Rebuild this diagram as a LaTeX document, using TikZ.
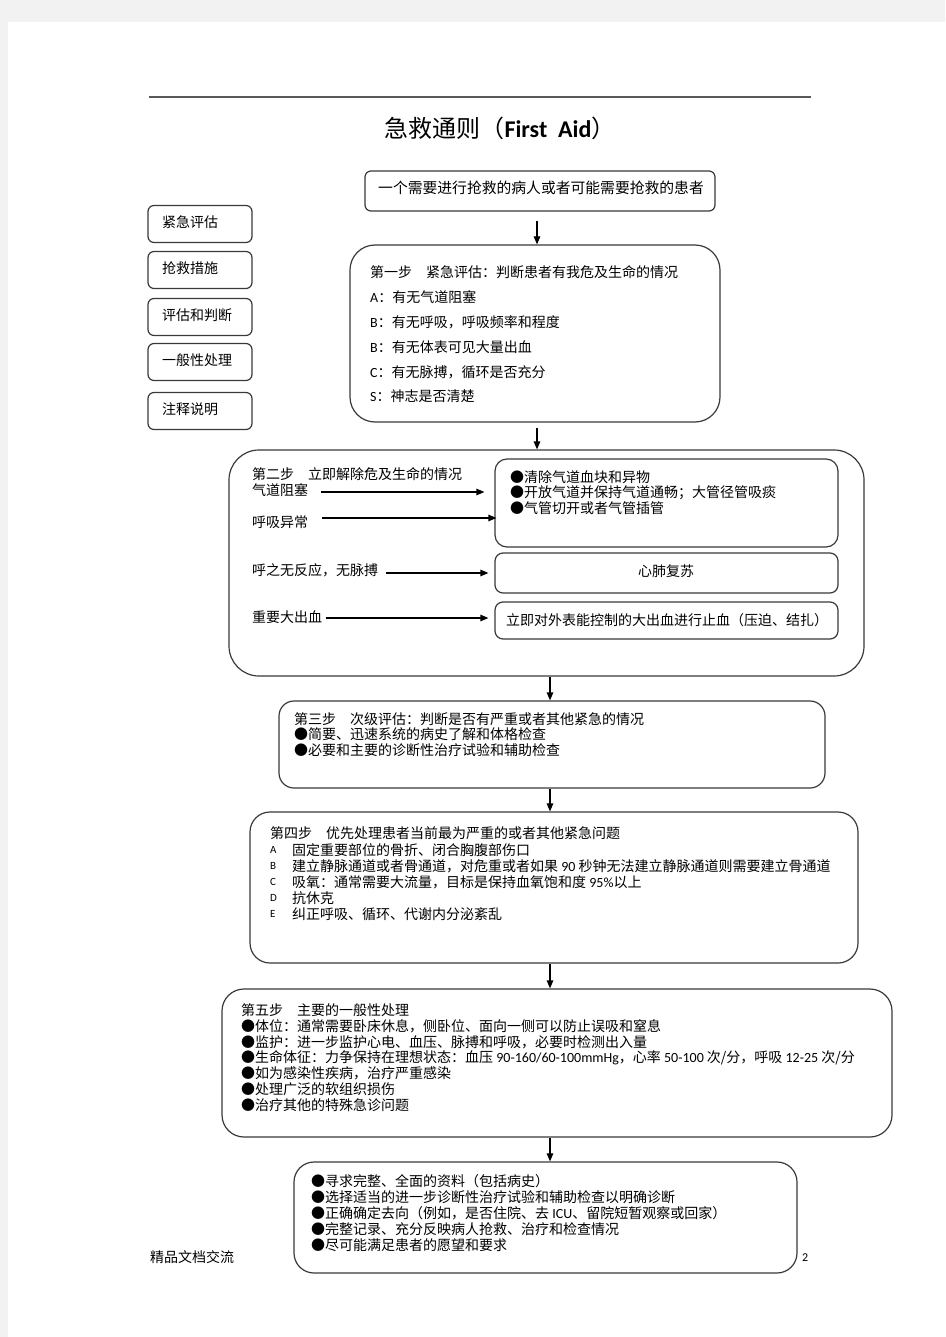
\documentclass[tikz,border=0pt]{standalone}
\usepackage{fontspec}
\setmainfont{Noto Sans CJK SC}
\newfontfamily\lat{Carlito}
\newcommand\EN[1]{{\lat #1}}
\usetikzlibrary{arrows.meta}
\definecolor{pagebg}{HTML}{F2F2F2}
\definecolor{edge}{HTML}{3A3A3A}
\begin{document}
\begin{tikzpicture}[x=1pt,y=-1pt,
  box/.style={draw=edge, line width=1.2pt, rounded corners=#1, inner sep=0pt},
  txt/.style={anchor=west, inner sep=0pt, font=\fontsize{14}{16}\selectfont, align=left},
  arr/.style={-{Triangle[length=8pt,width=6.5pt]}, line width=1.2pt, black},
]
\useasboundingbox (0,0) rectangle (945,1337);
\fill[pagebg] (0,0) rectangle (945,1337);
\fill[white] (8,22) rectangle (945,1337);
\draw[line width=1.3pt, black!65] (149,97) -- (811,97);

% title
\node[inner sep=0pt, font=\fontsize{24}{26}\selectfont] (title) at (500,128) {急救通则（{\lat\bfseries First\ \ Aid}）};

% top box
\node[box=6pt, minimum width=350pt, minimum height=40pt] (b0) at (540,191) {};
\node[txt, font=\fontsize{14.8}{16}\selectfont] (t0) at (378,188) {一个需要进行抢救的病人或者可能需要抢救的患者};

% legend
\foreach \n/\y/\s in {1/224/紧急评估, 2/270/抢救措施, 3/317/评估和判断, 4/362/一般性处理, 5/411/注释说明} {
  \node[box=6pt, minimum width=104pt, minimum height=37pt] (L\n) at (200,\y) {};
  \node[txt] (Lt\n) at (162,\y-2) {\s};
}

% step 1
\node[box=25pt, minimum width=370pt, minimum height=177pt] (b1) at (535,333.5) {};
\node[txt, font=\fontsize{14}{24.8}\selectfont] (t1) at (370,334.5) {第一步\quad 紧急评估：判断患者有我危及生命的情况\\ \EN{A}：有无气道阻塞\\ \EN{B}：有无呼吸，呼吸频率和程度\\ \EN{B}：有无体表可见大量出血\\ \EN{C}：有无脉搏，循环是否充分\\ \EN{S}：神志是否清楚};

% step 2
\node[box=30pt, minimum width=635pt, minimum height=226pt] (b2) at (546.5,563) {};
\node[box=12pt, minimum width=343pt, minimum height=88pt] (i1) at (666.5,503) {};
\node[box=8pt, minimum width=343pt, minimum height=40pt] (i2) at (666.5,573) {};
\node[box=8pt, minimum width=343pt, minimum height=37pt] (i3) at (666.5,620.5) {};
\node[txt] (s2) at (252,474) {第二步\quad 立即解除危及生命的情况};
\node[txt] (q1) at (252,490) {气道阻塞};
\node[txt] (q2) at (252,522) {呼吸异常};
\node[txt] (q3) at (252,570) {呼之无反应，无脉搏};
\node[txt] (q4) at (252,617) {重要大出血};
\node[txt, font=\fontsize{14}{15.5}\selectfont] (i1t) at (510,492.5) {●清除气道血块和异物\\●开放气道并保持气道通畅；大管径管吸痰\\●气管切开或者气管插管};
\node[inner sep=0pt, font=\fontsize{14}{16}\selectfont] (i2t) at (666,571) {心肺复苏};
\node[inner sep=0pt, font=\fontsize{14}{16}\selectfont] (i3t) at (667,620) {立即对外表能控制的大出血进行止血（压迫、结扎）};
\draw[arr, shorten <=13pt, shorten >=10pt] ([yshift=-2pt]q1.east) -- ([yshift=-2pt]q1.east -| i1.west);
\draw[arr, shorten <=14pt, shorten >=-2pt] ([yshift=4pt]q2.east) -- ([yshift=4pt]q2.east -| i1.west);
\draw[arr, shorten <=8pt, shorten >=6pt] ([yshift=-3pt]q3.east) -- ([yshift=-3pt]q3.east -| i2.west);
\draw[arr, shorten <=4pt, shorten >=6pt] ([yshift=-1pt]q4.east) -- ([yshift=-1pt]q4.east -| i3.west);

% step 3
\node[box=15pt, minimum width=546pt, minimum height=87pt] (b3) at (552,744.5) {};
\node[txt, font=\fontsize{14}{15.5}\selectfont] (t3) at (294,734.5) {第三步\quad 次级评估：判断是否有严重或者其他紧急的情况\\●简要、迅速系统的病史了解和体格检查\\●必要和主要的诊断性治疗试验和辅助检查};

% step 4
\node[box=20pt, minimum width=608pt, minimum height=151pt] (b4) at (554,887.5) {};
\node[txt] (t4) at (270,833) {第四步\quad 优先处理患者当前最为严重的或者其他紧急问题};
\foreach \k/\y/\s in {A/850/固定重要部位的骨折、闭合胸腹部伤口, B/866/{建立静脉通道或者骨通道，对危重或者如果 \EN{90} 秒钟无法建立静脉通道则需要建立骨通道}, C/882/{吸氧：通常需要大流量，目标是保持血氧饱和度 \EN{95\%}以上}, D/898/抗休克, E/914/纠正呼吸、循环、代谢内分泌紊乱} {
  \node[txt, font=\lat\fontsize{11}{12}\selectfont] (k\k) at (270,\y) {\k};
  \node[txt] (m\k) at (292,\y) {\s};
}

% step 5
\node[box=22pt, minimum width=670pt, minimum height=148pt] (b5) at (557,1063) {};
\node[txt, font=\fontsize{14}{15.8}\selectfont] (t5) at (241,1057.5) {第五步\quad 主要的一般性处理\\●体位：通常需要卧床休息，侧卧位、面向一侧可以防止误吸和窒息\\●监护：进一步监护心电、血压、脉搏和呼吸，必要时检测出入量\\●生命体征：力争保持在理想状态：血压 \EN{90-160/60-100mmHg}，心率 \EN{50-100} 次/分，呼吸 \EN{12-25} 次/分\\●如为感染性疾病，治疗严重感染\\●处理广泛的软组织损伤\\●治疗其他的特殊急诊问题};

% step 6
\node[box=20pt, minimum width=503pt, minimum height=111pt] (b6) at (545.5,1217.5) {};
\node[txt, font=\fontsize{14}{16}\selectfont] (t6) at (311,1213) {●寻求完整、全面的资料（包括病史）\\●选择适当的进一步诊断性治疗试验和辅助检查以明确诊断\\●正确确定去向（例如，是否住院、去 \EN{ICU}、留院短暂观察或回家）\\●完整记录、充分反映病人抢救、治疗和检查情况\\●尽可能满足患者的愿望和要求};

% vertical connectors
\coordinate (c1) at (537,0);
\coordinate (c2) at (550,0);
\draw[arr, shorten <=9pt] (b0.south -| c1) -- (b1.north -| c1);
\draw[arr, shorten <=5pt] (b1.south -| c1) -- (b2.north -| c1);
\draw[arr] (b2.south -| c2) -- (b3.north -| c2);
\draw[arr] (b3.south -| c2) -- (b4.north -| c2);
\draw[arr] (b4.south -| c2) -- (b5.north -| c2);
\draw[arr] (b5.south -| c2) -- (b6.north -| c2);

% footer
\node[txt] (ft) at (150,1257) {精品文档交流};
\node[txt, font=\lat\fontsize{12}{12}\selectfont] (pg) at (802,1258) {2};
\end{tikzpicture}
\end{document}
